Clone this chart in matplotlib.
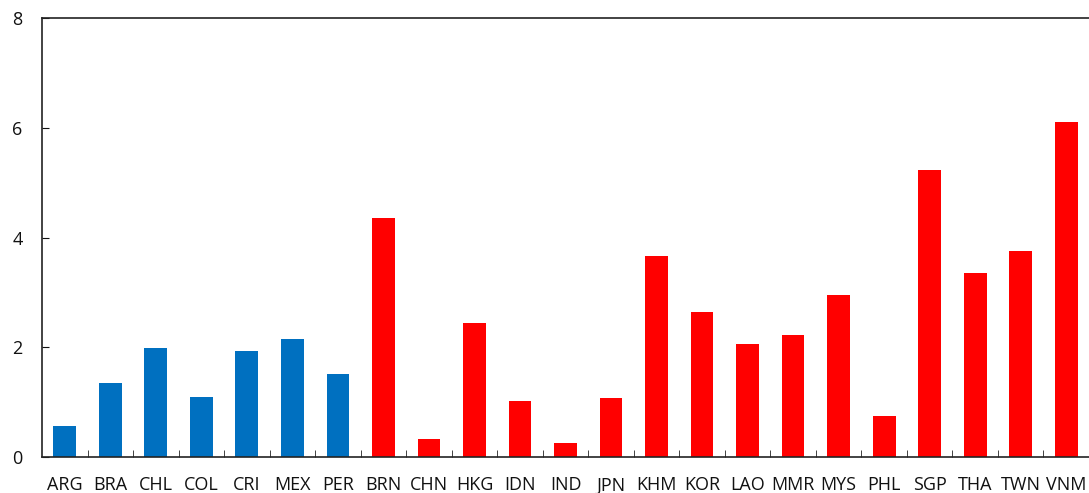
import matplotlib.pyplot as plt
import numpy as np

plt.rcParams['font.family'] = ['Open Sans', 'DejaVu Sans']

# Data
latam = ['ARG', 'BRA', 'CHL', 'COL', 'CRI', 'MEX', 'PER']
latam_vals = [0.56, 1.35, 1.99, 1.09, 1.93, 2.15, 1.51]
asia = ['BRN', 'CHN', 'HKG', 'IDN', 'IND', 'JPN', 'KHM', 'KOR', 'LAO', 'MMR',
        'MYS', 'PHL', 'SGP', 'THA', 'TWN', 'VNM']
asia_vals = [4.35, 0.33, 2.44, 1.02, 0.26, 1.07, 3.66, 2.64, 2.06, 2.22,
             2.95, 0.75, 5.23, 3.35, 3.75, 6.10]

labels = latam + asia
values = latam_vals + asia_vals
colors = ['#0070C0'] * len(latam) + ['#FF0000'] * len(asia)

fig = plt.figure(figsize=(10.89, 4.93), dpi=100)
ax = fig.add_axes([0.0386, 0.073, 0.9614, 0.8905])

x = np.arange(len(labels))
ax.bar(x, values, width=0.5, color=colors)

ax.set_xlim(-0.5, len(labels) - 0.5)
ax.set_ylim(0, 8)
ax.set_yticks([0, 2, 4, 6, 8])
ax.set_xticks(x)
ax.set_xticklabels(labels)
ax.set_xticks(x[:-1] + 0.5, minor=True)

ax.spines['right'].set_visible(False)
for s in ['left', 'top', 'bottom']:
    ax.spines[s].set_color('#222222')
    ax.spines[s].set_linewidth(1.2)

ax.tick_params(axis='x', which='major', length=0, pad=14, labelsize=13, colors='#111111')
ax.tick_params(axis='x', which='minor', direction='in', length=5, color='#222222')
ax.tick_params(axis='y', direction='in', length=5, pad=14, labelsize=13, colors='#111111')

fig.savefig('out.png', dpi=100)
